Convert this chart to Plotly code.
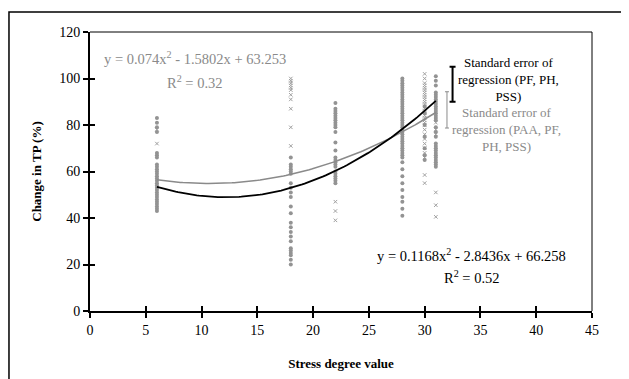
import numpy as np
import plotly.graph_objects as go

# ---- data ----
x6_circ = [83, 81, 79, 77, 68, 67, 66, 63, 62, 61, 60, 59, 58, 57, 56, 55, 54, 53, 52, 51, 50, 49, 48, 47, 46, 45, 44, 43]
x6_cross = [78, 72]
x18_circ = [66, 63, 62, 61, 60, 59, 55, 53, 51, 49, 45, 42, 38, 36, 34, 32, 30, 27, 26, 25, 24, 22, 20]
x18_cross = [100, 99, 98, 97, 96, 95, 93, 91, 87, 79, 71]
x22_circ = [89.5, 87, 86, 85, 84, 83, 82, 81, 80, 79, 77, 72.5, 69, 66, 65, 64, 63, 62, 60, 59, 58, 57, 56, 55]
x22_cross = [47, 43, 39]
x28_circ = [100, 99, 98, 97, 96, 95, 94, 93, 92, 91, 90, 89, 88, 87, 86, 85, 84, 83, 82, 81, 80, 79, 78,
            77, 76, 75, 74, 73, 72, 71, 70, 69, 68, 67, 66, 64, 61, 58, 55, 52, 49, 47, 44, 41]
x30_circ = [88, 85, 80, 75, 70, 67, 65]
x30_cross = [102, 100, 98, 97, 96, 95, 94, 93, 92, 91, 90, 89, 88, 87, 86, 85, 84, 83, 82, 81, 80,
             78, 76, 74, 72, 70, 68, 66, 58.5, 55]
x31_circ = [101, 99, 97, 94, 93, 92, 91, 90, 89, 88, 87, 86, 85, 84, 83, 82, 79, 77, 75, 72, 71, 70,
            69, 68, 67, 66, 65, 64, 63, 62]
x31_cross = [81, 78, 76, 51, 45.5, 40.5]

# trendline coefficients as printed on the chart
coef_black = [0.1168, -2.8436, 66.258]
coef_gray = [0.074, -1.5802, 63.253]
trend_range = [6, 31]

# standard error bars (position, centre, half-length)
se_black = dict(x=32.5, y=97.5, err=7.5)
se_gray = dict(x=32.0, y=86.5, err=7.8)

circ_groups = [(6, x6_circ), (18, x18_circ), (22, x22_circ), (28, x28_circ), (30, x30_circ), (31, x31_circ)]
cross_groups = [(6, x6_cross), (18, x18_cross), (22, x22_cross), (30, x30_cross), (31, x31_cross)]

cx, cy = [], []
for xv, ys in circ_groups:
    cx += [xv] * len(ys); cy += ys
kx, ky = [], []
for xv, ys in cross_groups:
    kx += [xv] * len(ys); ky += ys

FONT = "'Liberation Serif', 'Times New Roman', Times, serif"
fig = go.Figure()
fig.add_trace(go.Scatter(x=kx, y=ky, mode="markers",
                         marker=dict(symbol="x-thin", size=3.5, line=dict(width=1, color="#a0a0a0")),
                         showlegend=False, hoverinfo="skip"))
fig.add_trace(go.Scatter(x=cx, y=cy, mode="markers",
                         marker=dict(symbol="circle", size=4, color="#939393", line=dict(width=0)),
                         showlegend=False, hoverinfo="skip"))

xs = np.linspace(trend_range[0], trend_range[1], 120)
fig.add_trace(go.Scatter(x=xs, y=np.polyval(coef_gray, xs), mode="lines",
                         line=dict(color="#8a8a8a", width=1.5), showlegend=False, hoverinfo="skip"))
fig.add_trace(go.Scatter(x=xs, y=np.polyval(coef_black, xs), mode="lines",
                         line=dict(color="black", width=1.8), showlegend=False, hoverinfo="skip"))

fig.add_trace(go.Scatter(x=[se_black["x"]], y=[se_black["y"]], mode="markers",
                         marker=dict(size=1, color="rgba(0,0,0,0)"),
                         error_y=dict(type="constant", value=se_black["err"], color="black", thickness=2, width=3),
                         showlegend=False, hoverinfo="skip"))
fig.add_trace(go.Scatter(x=[se_gray["x"]], y=[se_gray["y"]], mode="markers",
                         marker=dict(size=1, color="rgba(0,0,0,0)"),
                         error_y=dict(type="constant", value=se_gray["err"], color="#8a8a8a", thickness=1, width=2),
                         showlegend=False, hoverinfo="skip"))

# invisible trace on overlay axes to draw inner half of crossing ticks
fig.add_trace(go.Scatter(x=[None], y=[None], xaxis="x2", yaxis="y2", showlegend=False, hoverinfo="skip"))

axis_common = dict(showgrid=False, zeroline=False, linecolor="black", linewidth=2, automargin=False,
                   ticks="outside", ticklen=5, tickwidth=1.5, tickcolor="black",
                   tickfont=dict(family=FONT, size=14, color="black"))
fig.update_layout(
    width=621, height=371,
    margin=dict(l=82, r=37, t=24, b=68, autoexpand=False),
    paper_bgcolor="white", plot_bgcolor="white",
    xaxis=dict(range=[0, 45], dtick=5, **axis_common,
               title=dict(text="<b>Stress degree value</b>", font=dict(family=FONT, size=13, color="black"),
                          standoff=22)),
    yaxis=dict(range=[0, 120], dtick=20, **axis_common,
               title=dict(text="<b>Change in TP (%)</b>", font=dict(family=FONT, size=13, color="black"),
                          standoff=15)),
    xaxis2=dict(range=[0, 45], dtick=5, overlaying="x", anchor="y", showgrid=False, zeroline=False,
                showline=False, ticks="inside", ticklen=5, tickwidth=1.5, tickcolor="black",
                showticklabels=False, automargin=False),
    yaxis2=dict(range=[0, 120], dtick=20, overlaying="y", anchor="x", showgrid=False, zeroline=False,
                showline=False, ticks="inside", ticklen=5, tickwidth=1.5, tickcolor="black",
                showticklabels=False, automargin=False),
    font=dict(family=FONT, color="black"),
)

# thin top/right frame of plot area
fig.add_shape(type="line", xref="paper", yref="paper", x0=0, x1=1, y0=1, y1=1, line=dict(color="black", width=1))
fig.add_shape(type="line", xref="paper", yref="paper", x0=1, x1=1, y0=0, y1=1, line=dict(color="black", width=1))
# outer chart border (extends past window)
fig.add_shape(type="rect", xref="paper", yref="paper", x0=-0.1614, x1=1.2, y0=-0.6, y1=1.0717,
              line=dict(color="black", width=1.5), layer="below")

gray = "#8a8a8a"
EQ = 14.5
fig.add_annotation(x=9.4, y=108.7, xref="x", yref="y", showarrow=False,
                   text="y = 0.074x<sup>2</sup> - 1.5802x + 63.253", font=dict(family=FONT, size=EQ, color=gray))
fig.add_annotation(x=9.4, y=98.6, xref="x", yref="y", showarrow=False,
                   text="R<sup>2</sup> = 0.32", font=dict(family=FONT, size=EQ, color=gray))
fig.add_annotation(x=34.2, y=24.2, xref="x", yref="y", showarrow=False,
                   text="y = 0.1168x<sup>2</sup> - 2.8436x + 66.258", font=dict(family=FONT, size=EQ, color="black"))
fig.add_annotation(x=34.2, y=14.8, xref="x", yref="y", showarrow=False,
                   text="R<sup>2</sup> = 0.52", font=dict(family=FONT, size=EQ, color="black"))
fig.add_annotation(x=37.5, y=99.4, xref="x", yref="y", showarrow=False,
                   text="Standard error of<br>regression (PF, PH,<br>PSS)",
                   font=dict(family=FONT, size=13, color="black"))
fig.add_annotation(x=37.3, y=78.0, xref="x", yref="y", showarrow=False,
                   text="Standard error of<br>regression (PAA, PF,<br>PH, PSS)",
                   font=dict(family=FONT, size=13, color=gray))

fig.write_html("out.html")
